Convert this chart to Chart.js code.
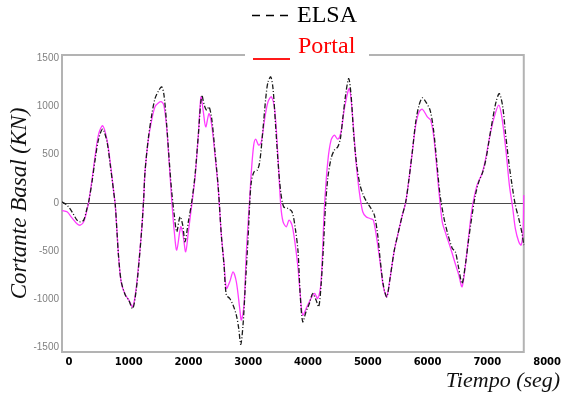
<!DOCTYPE html>
<html>
<head>
<meta charset="utf-8">
<script src="https://cdn.jsdelivr.net/npm/chart.js@4/dist/chart.umd.min.js"></script>
<style>
  html, body { margin: 0; padding: 0; background: #ffffff; }
  canvas { display: block; }
</style>
</head>
<body>
<canvas id="c" width="561" height="394"></canvas>
<script>
// ---- Data (time in s, base shear in kN) ----
const seriesNames = ['ELSA', 'Portal'];

const elsaT = [
  -117,-33,50,134,189,246,301,330,385,440,
  497,564,636,691,748,775,803,832,875,942,
  999,1066,1121,1177,1222,1250,1272,1327,1384,1439,
  1495,1551,1590,1635,1679,1719,1762,1803,1858,1903,
  1941,1997,2054,2109,2164,2221,2264,2305,2343,2388,
  2443,2499,2549,2594,2633,2690,2745,2800,2840,2874,
  2912,2951,2996,3024,3051,3096,3151,3192,3247,3292,
  3330,3376,3414,3453,3498,3543,3593,3665,3732,3787,
  3833,3866,3911,3966,4022,4079,4134,4179,4218,4256,
  4290,4330,4385,4440,4497,4541,4581,4636,4681,4720,
  4765,4815,4870,4925,4982,5054,5110,5166,5205,5260,
  5317,5372,5439,5506,5578,5635,5690,5745,5802,5858,
  5913,5970,6042,6097,6154,6209,6276,6343,6415,6465,
  6522,6577,6632,6689,6745,6800,6857,6924,6979,7034,
  7091,7146,7201,7258,7302,7359,7414,7469,7526,7581,7610
];
const elsaV = [
  10,-24,-93,-180,-197,-180,-59,10,218,460,
  668,765,633,391,114,-24,-301,-578,-820,-958,
  -1010,-1098,-924,-578,-232,45,322,668,911,1083,
  1160,1205,1118,807,426,114,-128,-301,-145,-232,
  -405,-197,10,288,703,1118,1015,963,997,875,
  530,148,-335,-647,-958,-994,-1062,-1166,-1305,-1471,
  -1270,-855,-371,-7,218,322,340,426,772,1083,
  1256,1308,1187,841,426,114,-42,-59,-93,-267,
  -509,-924,-1236,-1132,-1046,-942,-1010,-1080,-855,-475,
  -59,252,460,547,581,668,875,1153,1291,1118,
  703,391,184,80,10,-59,-128,-335,-578,-855,
  -976,-786,-509,-319,-128,10,252,530,841,1015,
  1090,1049,963,772,426,80,-163,-335,-475,-509,
  -682,-838,-647,-371,-128,80,218,322,460,668,
  875,1049,1135,997,737,426,184,-24,-163,-319,-439
];

const portalT = [
  -117,-33,50,134,189,246,301,330,385,440,
  497,564,636,691,748,775,803,832,875,942,
  999,1066,1121,1177,1222,1250,1272,1327,1384,1439,
  1495,1551,1590,1635,1679,1719,1762,1803,1870,1908,
  1953,1997,2054,2109,2164,2209,2248,2288,2343,2388,
  2443,2499,2549,2594,2633,2690,2745,2800,2857,2884,
  2929,2968,3024,3051,3091,3124,3175,3218,3275,3330,
  3386,3443,3498,3543,3582,3637,3682,3732,3787,3833,
  3866,3911,3995,4105,4162,4218,4273,4330,4385,4440,
  4497,4552,4608,4691,4748,4803,4858,4915,4971,5037,
  5093,5166,5205,5260,5317,5372,5439,5506,5578,5635,
  5690,5745,5802,5858,5913,5996,6052,6107,6191,6246,
  6304,6387,6471,6522,6577,6632,6689,6745,6828,6912,
  6967,7034,7108,7192,7247,7314,7369,7426,7469,7526,
  7565,7598,7610
];
const portalV = [
  -80,-93,-156,-218,-232,-197,-73,10,239,498,
  717,800,654,415,114,-31,-301,-578,-831,-955,
  -1007,-1080,-903,-561,-232,45,322,654,862,997,
  1038,1049,1007,779,395,31,-301,-491,-249,-332,
  -509,-301,-21,260,703,1100,945,789,927,810,
  498,135,-332,-623,-890,-820,-717,-820,-1098,-1218,
  -1062,-509,45,322,599,661,599,633,875,1049,
  1101,963,460,-24,-197,-249,-180,-232,-439,-682,
  -924,-1166,-1062,-942,-994,-820,-59,426,651,703,
  661,737,979,1187,875,426,114,-93,-145,-163,
  -180,-439,-613,-872,-976,-786,-509,-319,-128,10,
  252,530,810,945,973,893,859,668,114,-197,
  -319,-475,-647,-748,-872,-654,-343,-59,184,304,
  443,668,875,1015,875,530,184,-59,-267,-405,
  -439,-301,80
];

const xTickValues = [0,1000,2000,3000,4000,5000,6000,7000,8000];
const yTickValues = [-1500,-1000,-500,0,500,1000,1500];

function pairs(ts, vs) { return ts.map((t, i) => ({x: t, y: vs[i]})); }

// ---- frame, zero line and two-row legend ----
const LEG = { sampleL: 252, sampleR: 290, textX: 297, row1: 15.5, row2: 46.5, lineY2: 59, gapL: 245, gapR: 369 };

const decor = {
  id: 'decor',
  beforeDatasetsDraw(chart) {
    const {ctx, chartArea, scales} = chart;
    const L = chartArea.left, T = chartArea.top, B = chartArea.bottom;
    const R = scales.x.getPixelForValue(elsaT[elsaT.length - 1]);
    ctx.save();
    const y0 = Math.round(scales.y.getPixelForValue(0)) + 0.5;
    ctx.strokeStyle = '#4a4a4a';
    ctx.lineWidth = 1;
    ctx.beginPath(); ctx.moveTo(L, y0); ctx.lineTo(R, y0); ctx.stroke();
    ctx.strokeStyle = '#b3b3b3';
    ctx.lineWidth = 2;
    ctx.beginPath();
    ctx.moveTo(LEG.gapL, T); ctx.lineTo(L, T); ctx.lineTo(L, B); ctx.lineTo(R, B); ctx.lineTo(R, T); ctx.lineTo(LEG.gapR, T);
    ctx.stroke();
    ctx.restore();
  },
  afterDraw(chart) {
    const ctx = chart.ctx;
    ctx.save();
    ctx.font = '24px "Liberation Serif", "Times New Roman", serif';
    ctx.textBaseline = 'middle';
    ctx.textAlign = 'left';
    ctx.strokeStyle = '#000';
    ctx.lineWidth = 1.6;
    ctx.setLineDash([8, 6]);
    ctx.beginPath(); ctx.moveTo(LEG.sampleL, LEG.row1); ctx.lineTo(LEG.sampleR, LEG.row1); ctx.stroke();
    ctx.setLineDash([]);
    ctx.fillStyle = '#000';
    ctx.fillText(seriesNames[0], LEG.textX, LEG.row1);
    ctx.strokeStyle = '#ff1a1a';
    ctx.lineWidth = 2;
    ctx.beginPath(); ctx.moveTo(LEG.sampleL + 1, LEG.lineY2); ctx.lineTo(LEG.sampleR, LEG.lineY2); ctx.stroke();
    ctx.fillStyle = '#ff0000';
    ctx.fillText(seriesNames[1], LEG.textX + 1, LEG.row2);
    ctx.restore();
  }
};

new Chart(document.getElementById('c'), {
  type: 'line',
  data: {
    datasets: [
      {
        label: seriesNames[0],
        data: pairs(elsaT, elsaV),
        borderColor: '#1a1a1a',
        borderWidth: 1.3,
        borderDash: [5, 2, 1, 2],
        pointRadius: 0,
        tension: 0.3,
        fill: false
      },
      {
        label: seriesNames[1],
        data: pairs(portalT, portalV),
        borderColor: '#ff3cff',
        borderWidth: 1.3,
        pointRadius: 0,
        tension: 0.3,
        fill: false
      }
    ]
  },
  options: {
    responsive: false,
    devicePixelRatio: 1,
    animation: false,
    layout: { padding: { top: 55, left: 0, right: 0, bottom: 0 } },
    plugins: {
      legend: { display: false },
      tooltip: { enabled: false },
      title: { display: false }
    },
    scales: {
      x: {
        type: 'linear',
        min: -117,
        max: 8218,
        afterFit(s) { s.height = 42; },
        afterBuildTicks(s) { s.ticks = xTickValues.map(v => ({value: v})); },
        grid: { display: false, drawTicks: false },
        border: { display: false },
        ticks: {
          padding: 0,
          color: '#000',
          font: { family: '"DejaVu Sans", Verdana, sans-serif', size: 10, weight: 'bold', lineHeight: 2.0 },
          maxRotation: 0,
          autoSkip: false,
          callback: (v) => String(v)
        },
        title: {
          display: true,
          text: 'Tiempo (seg)',
          align: 'end',
          color: '#111',
          font: { family: '"Liberation Serif", "Times New Roman", serif', size: 22, style: 'italic' },
          padding: { top: 0, bottom: 0 }
        }
      },
      y: {
        type: 'linear',
        min: -1550,
        max: 1536,
        afterFit(s) { s.width = 62; },
        afterBuildTicks(s) { s.ticks = yTickValues.map(v => ({value: v})); },
        grid: { display: false, drawTicks: false },
        border: { display: false },
        ticks: {
          padding: 3,
          color: '#808080',
          font: { family: '"Liberation Sans", Arial, sans-serif', size: 10 },
          autoSkip: false,
          callback: (v) => String(v)
        },
        title: {
          display: true,
          text: 'Cortante Basal (KN)',
          color: '#111',
          font: { family: '"Liberation Serif", "Times New Roman", serif', size: 23, style: 'italic' },
          padding: { top: 6, bottom: 0 }
        }
      }
    }
  },
  plugins: [decor]
});
</script>
</body>
</html>
